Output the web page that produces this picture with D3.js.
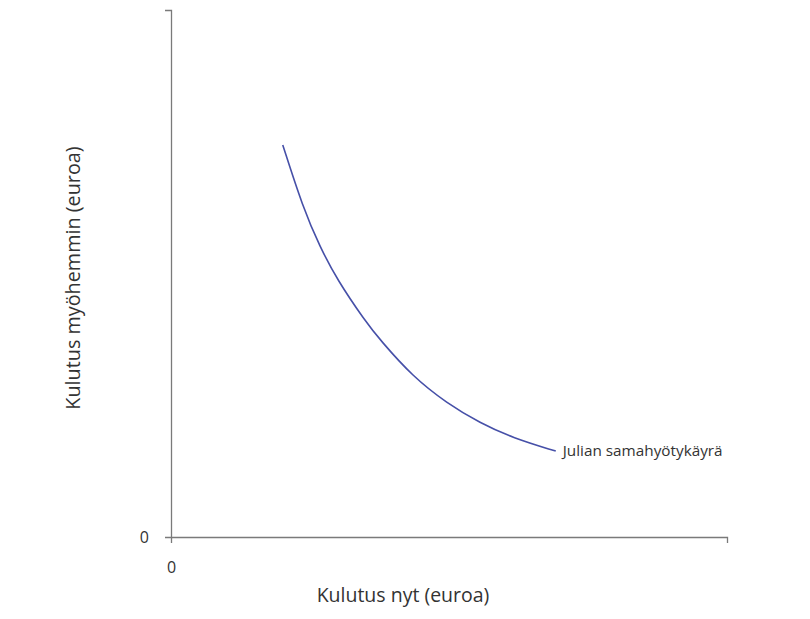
<!DOCTYPE html>
<html><head><meta charset="utf-8">
<script src="https://cdn.jsdelivr.net/npm/d3@7"></script>
<style>body{margin:0;background:#fff}svg{display:block}text{font-family:"Open Sans",sans-serif;fill:#333}</style>
</head><body>
<script>
const curveX = [20.1, 23.7, 26.8, 29.9, 34.9, 37.6, 43.5, 49.6, 55.6, 61.5, 69.2];
const curveY = [74.4, 62.6, 55.0, 48.8, 41.0, 37.4, 30.4, 25.4, 21.6, 18.8, 16.3];
const xTicks = [0];
const yTicks = [0];
const curveLabel = "Julian samahyötykäyrä";
const xTitle = "Kulutus nyt (euroa)";
const yTitle = "Kulutus myöhemmin (euroa)";

const W = 810, H = 619;
const svg = d3.select("body").append("svg").attr("width", W).attr("height", H);
const x = d3.scaleLinear().domain([0, 100]).range([171, 727]);
const y = d3.scaleLinear().domain([0, 100]).range([537, 10]);

const xAxis = svg.append("g").attr("transform", "translate(0,537)")
  .call(d3.axisBottom(x).tickValues(xTicks).tickSize(6).tickSizeOuter(6).tickPadding(16));
const yAxis = svg.append("g").attr("transform", "translate(171,0)")
  .call(d3.axisLeft(y).tickValues(yTicks).tickSize(6).tickSizeOuter(6).tickPadding(16));
[xAxis, yAxis].forEach(g => {
  g.selectAll("path,line").attr("stroke", "#7a7a7a").attr("stroke-width", 1.3);
  g.selectAll("text").attr("font-size", 16).attr("fill", "#333").style("font-family", "'Open Sans', sans-serif");
});
xAxis.selectAll(".tick line").remove();
yAxis.selectAll(".tick line").remove();
xAxis.select(".tick text").attr("dy", "0.9em");

const pts = curveX.map((v, i) => [v, curveY[i]]);
svg.append("path").datum(pts)
  .attr("fill", "none").attr("stroke", "#4650a8").attr("stroke-width", 1.6)
  .attr("d", d3.line().x(d => x(d[0])).y(d => y(d[1])).curve(d3.curveBasis));

const last = pts[pts.length - 1];
svg.append("text").attr("x", x(last[0]) + 7).attr("y", y(last[1]) + 5)
  .attr("font-size", 15.3).text(curveLabel);

svg.append("text").attr("x", 403).attr("y", 602).attr("text-anchor", "middle")
  .attr("font-size", 19.5).text(xTitle);
svg.append("text").attr("transform", "translate(80,278) rotate(-90)").attr("text-anchor", "middle")
  .attr("font-size", 19.8).text(yTitle);
</script>
</body></html>
